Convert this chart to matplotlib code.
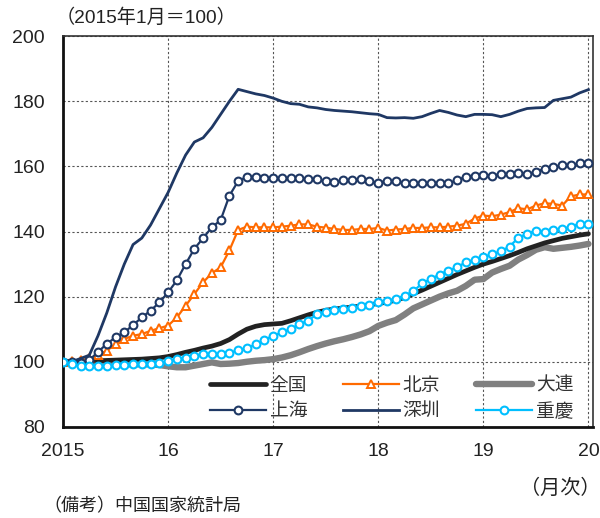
import matplotlib
matplotlib.use("Agg")
import matplotlib.pyplot as plt
import numpy as np

plt.rcParams['font.family'] = ['Liberation Sans', 'Noto Sans CJK JP', 'DejaVu Sans']

# Monthly index, Jan 2015 = 100 (Jan 2015 .. Jan 2020)
national = [100, 100, 100.1, 100.2, 100.3, 100.4, 100.5, 100.6, 100.7, 100.8,
            101, 101.2, 101.6, 102.2, 102.9, 103.5, 104.2, 104.8, 105.6, 106.8,
            108.5, 110, 110.9, 111.4, 111.6, 111.8, 112.6, 113.5, 114.4, 115.2,
            115.8, 116.2, 116.5, 116.8, 117.1, 117.5, 117.9, 118.3, 118.9, 119.7,
            120.9, 122, 123.2, 124.4, 125.6, 126.8, 127.9, 129, 130, 130.8,
            131.7, 132.6, 133.6, 134.7, 135.6, 136.5, 137.2, 137.9, 138.4, 138.9,
            139.3]
beijing = [100, 100.2, 100.5, 101, 102, 103.4, 105.4, 107, 108, 108.5,
           109.5, 110.3, 111.1, 113.6, 117.2, 120.8, 124.4, 127.2, 129, 134.2,
           140.5, 141.5, 141.3, 141.3, 141.3, 141.5, 141.8, 142.2, 142.2, 141.5,
           141.2, 140.8, 140.5, 140.5, 140.8, 140.8, 141.1, 140.3, 140.6, 140.8,
           141.1, 141.1, 141.3, 141.3, 141.5, 141.8, 142.4, 144, 144.9, 144.7,
           145.2, 146, 147.2, 146.8, 148, 148.7, 148.5, 148, 150.8, 151.4,
           151.4]
dalian = [100, 99.8, 99.6, 99.5, 99.4, 99.3, 99.3, 99.2, 99.2, 99.2,
          99.2, 99, 98.6, 98.3, 98.3, 98.8, 99.3, 99.8, 99.3, 99.4,
          99.6, 100, 100.3, 100.5, 100.8, 101.3, 102, 102.9, 103.9, 104.8,
          105.6, 106.3, 106.9, 107.6, 108.4, 109.4, 111, 112, 112.8, 114.5,
          116.4, 117.6, 118.8, 120, 121, 121.8, 123.3, 125.2, 125.4, 127.4,
          128.5, 129.5, 131.4, 132.8, 134.4, 135.2, 134.7, 135, 135.3, 135.7,
          136.2]
shanghai = [100, 99.8, 99.5, 100.5, 103, 105.5, 107.5, 109, 111.3, 113.6,
            115.7, 118.2, 121.3, 125, 130, 134.7, 138, 141.3, 143.5, 151,
            155.5, 156.8, 156.8, 156.5, 156.5, 156.3, 156.5, 156.3, 156.2, 156,
            155.5, 155.1, 155.7, 155.7, 156.2, 155.4, 155, 155.6, 155.4, 154.9,
            154.9, 154.9, 154.9, 154.9, 154.9, 155.7, 156.9, 157.2, 157.5, 157.2,
            157.7, 157.7, 157.9, 157.7, 158.3, 159.3, 159.8, 160.3, 160.3, 161,
            161.2]
shenzhen = [100, 100, 101, 102, 108, 115, 123, 130, 136, 138,
            142, 147, 152, 158, 163.5, 167.5, 168.8, 172, 176, 180,
            183.7, 183, 182.3, 181.8, 181, 180, 179.3, 179.1, 178.3, 178,
            177.5, 177.2, 177, 176.8, 176.5, 176.2, 176, 175, 174.9, 175,
            174.8, 175.3, 176.3, 177.2, 176.6, 175.8, 175.3, 176, 176, 175.9,
            175.3, 176, 177, 177.8, 178, 178.1, 180.3, 180.8, 181.3, 182.6,
            183.6]
chongqing = [100, 99.3, 98.8, 98.6, 98.8, 98.8, 99, 99.1, 99.3, 99.3,
             99.3, 99.5, 100.3, 100.8, 101.3, 101.8, 102.4, 102.4, 102.4, 102.6,
             103.6, 104.1, 105.4, 106.7, 108, 109, 110, 111.6, 112.6, 114.7,
             115.4, 115.8, 116.2, 116.5, 117.2, 117.5, 118.3, 118.6, 119.3, 120.3,
             121.6, 124.1, 125.4, 126.8, 128, 129, 130.6, 131.3, 132.1, 133.1,
             133.9, 135.4, 138.1, 139.3, 140.3, 139.8, 140.5, 140.8, 141.5, 142.4,
             142.4]

year_ticks = [0, 12, 24, 36, 48, 60]
year_labels = ['2015', '16', '17', '18', '19', '20']
y_ticks = [80, 100, 120, 140, 160, 180, 200]

navy = '#1f3864'
orange = '#ff6a00'
grey = '#808080'
cyan = '#00bfff'

months = np.arange(len(national))

fig = plt.figure(figsize=(6.0, 5.18), dpi=100)
ax = fig.add_axes([0.105, 0.176, 0.883, 0.754])

ax.plot(months, dalian, color=grey, lw=4.6, solid_capstyle='round', label='大連', zorder=3)
ax.plot(months, national, color='#222222', lw=3.4, solid_capstyle='round', label='全国', zorder=4)
ax.plot(months, beijing, color=orange, lw=1.6, marker='^', ms=5.8, mfc='white',
        mec=orange, mew=1.4, label='北京', zorder=5)
ax.plot(months, shenzhen, color=navy, lw=2.0, label='深圳', zorder=5)
ax.plot(months, shanghai, color=navy, lw=1.6, marker='o', ms=5.6, mfc='white',
        mec=navy, mew=1.5, label='上海', zorder=6)
ax.plot(months, chongqing, color=cyan, lw=1.6, marker='o', ms=5.6, mfc='white',
        mec=cyan, mew=1.5, label='重慶', zorder=7)

ax.set_xlim(0, 60.5)
ax.set_ylim(80, 200)
ax.set_xticks(year_ticks)
ax.set_xticklabels(year_labels)
ax.set_yticks(y_ticks)
ax.tick_params(axis='both', length=0, labelsize=14, colors='#222222')
ax.tick_params(axis='x', pad=12)
ax.tick_params(axis='y', pad=13)

ax.grid(True, color='#555555', lw=0.8, linestyle=(0, (2, 2)))
ax.set_axisbelow(True)

for side in ['left', 'bottom']:
    ax.spines[side].set_linewidth(2.0)
    ax.spines[side].set_color('#111111')
for side in ['top', 'right']:
    ax.spines[side].set_linewidth(1.2)
    ax.spines[side].set_color('#333333')

handles, labels = ax.get_legend_handles_labels()
order = ['全国', '上海', '北京', '深圳', '大連', '重慶']
hmap = dict(zip(labels, handles))
leg = ax.legend([hmap[k] for k in order], order, ncol=3, loc='lower left',
                bbox_to_anchor=(0.252, -0.018), frameon=False, fontsize=13.5,
                handlelength=3.0, numpoints=1, columnspacing=1.9,
                handletextpad=0.2, labelspacing=0.45, borderaxespad=0.3)
for t in leg.get_texts():
    t.set_color('#333333')

fig.text(0.092, 0.965, '（2015年1月＝100）', fontsize=13.8, color='#222222', va='center')
fig.text(1.0, 0.058, '（月次）', fontsize=14.5, color='#222222', ha='right', va='center')
fig.text(0.072, 0.022, '（備考）中国国家統計局', fontsize=13, color='#222222', va='center')

fig.savefig('out.png', dpi=100)
